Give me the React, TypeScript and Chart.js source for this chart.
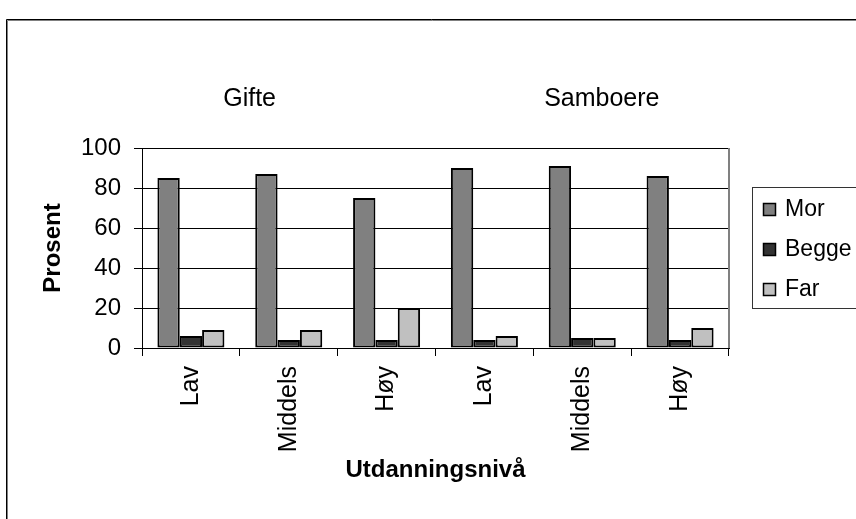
import React, { useEffect, useRef } from "react";
import { Chart, registerables } from "chart.js";

Chart.register(...registerables);

const categories = ["Lav", "Middels", "Høy", "Lav", "Middels", "Høy"];
const groupTitles = ["Gifte", "Samboere"];
const groupAnchors = [0.6, 4.2];
const seriesNames = ["Mor", "Begge", "Far"];
const morValues = [85, 87, 75, 90, 91, 86];
const beggeValues = [6, 4, 4, 4, 5, 4];
const farValues = [9, 9, 20, 6, 5, 10];
const seriesColors = ["#808080", "#333333", "#c0c0c0"];
const yMin = 0;
const yMax = 100;
const yStep = 20;
const yTitle = "Prosent";
const xTitle = "Utdanningsnivå";

const FONT = "'Liberation Sans', Arial, sans-serif";

const decorPlugin = {
  id: "decor",
  beforeDraw(chart: any) {
    const { ctx, width, height } = chart;
    ctx.save();
    ctx.fillStyle = "#ffffff";
    ctx.fillRect(0, 0, width, height);
    // outer frame
    ctx.lineWidth = 1;
    ctx.strokeStyle = "#000000";
    ctx.beginPath();
    ctx.moveTo(6.5, height + 2);
    ctx.lineTo(6.5, 19.5);
    ctx.lineTo(width + 2, 19.5);
    ctx.stroke();
    ctx.strokeStyle = "#808080";
    ctx.beginPath();
    ctx.moveTo(7.5, height + 2);
    ctx.lineTo(7.5, 20.5);
    ctx.lineTo(width + 2, 20.5);
    ctx.stroke();
    ctx.restore();
  },
  afterDraw(chart: any) {
    const { ctx, chartArea } = chart;
    const xs = chart.scales.x;
    ctx.save();
    // right border of plot area
    ctx.strokeStyle = "#808080";
    ctx.lineWidth = 2;
    ctx.beginPath();
    ctx.moveTo(chartArea.right, chartArea.top);
    ctx.lineTo(chartArea.right, chartArea.bottom);
    ctx.stroke();
    // group titles
    ctx.fillStyle = "#000000";
    ctx.font = `25px ${FONT}`;
    ctx.textAlign = "center";
    ctx.textBaseline = "alphabetic";
    groupTitles.forEach((t, i) => {
      ctx.fillText(t, xs.getPixelForValue(groupAnchors[i]), chartArea.top - 42);
    });
    // legend
    const bx = chartArea.right + 23;
    const by = chartArea.top + 39;
    const bh = 121;
    ctx.lineWidth = 1;
    ctx.strokeStyle = "#333333";
    ctx.strokeRect(Math.round(bx) + 0.5, Math.round(by) + 0.5, 200, bh);
    ctx.font = `23px ${FONT}`;
    ctx.textAlign = "left";
    ctx.textBaseline = "middle";
    chart.data.datasets.forEach((ds: any, i: number) => {
      const cy = Math.round(by) + 22 + i * 40;
      const sx = Math.round(bx) + 11;
      ctx.fillStyle = ds.backgroundColor;
      ctx.fillRect(sx, cy - 6, 12, 12);
      ctx.strokeStyle = "#000000";
      ctx.lineWidth = 1.5;
      ctx.strokeRect(sx + 0.5, cy - 6 + 0.5, 12, 12);
      ctx.fillStyle = "#000000";
      ctx.fillText(ds.label, Math.round(bx) + 33, cy + 1);
    });
    ctx.restore();
  },
};

export default function App() {
  const ref = useRef<HTMLCanvasElement | null>(null);
  useEffect(() => {
    if (!ref.current) return;
    const values = [morValues, beggeValues, farValues];
    const chart = new Chart(ref.current, {
      type: "bar",
      data: {
        labels: categories,
        datasets: seriesNames.map((name, i) => ({
          label: name,
          data: values[i],
          backgroundColor: seriesColors[i],
          borderColor: "#000000",
          borderWidth: 2,
          borderSkipped: false,
          categoryPercentage: 0.685,
          barPercentage: 1.0,
        })),
      },
      options: {
        animation: false,
        responsive: false,
        devicePixelRatio: 1,
        layout: { padding: { top: 148, right: 127, bottom: 0, left: 0 } },
        plugins: {
          legend: { display: false },
          tooltip: { enabled: false },
        },
        scales: {
          x: {
            offset: true,
            afterFit(scale: any) {
              scale.height = 171;
            },
            grid: {
              offset: true,
              drawOnChartArea: false,
              tickLength: 8,
              color: "#000000",
            },
            border: { display: true, color: "#000000", width: 1 },
            ticks: {
              autoSkip: false,
              minRotation: 90,
              maxRotation: 90,
              padding: 10,
              color: "#000000",
              font: { family: FONT, size: 25 },
            },
            title: {
              display: true,
              text: xTitle,
              color: "#000000",
              font: { family: FONT, size: 24, weight: "bold" },
              padding: { top: 0, bottom: 34 },
            },
          },
          y: {
            min: yMin,
            max: yMax,
            afterFit(scale: any) {
              scale.width = 142;
            },
            grid: {
              tickLength: 8,
              color: "#000000",
            },
            border: { display: true, color: "#000000", width: 1 },
            ticks: {
              stepSize: yStep,
              padding: 13,
              color: "#000000",
              font: { family: FONT, size: 24 },
            },
            title: {
              display: true,
              text: yTitle,
              color: "#000000",
              font: { family: FONT, size: 24, weight: "bold" },
              padding: { top: 39, bottom: 0 },
            },
          },
        },
      },
      plugins: [decorPlugin],
    });
    return () => chart.destroy();
  }, []);
  return (
    <div style={{ position: "fixed", left: 0, top: 0, width: 856, height: 519, background: "#fff" }}>
      <canvas ref={ref} width={856} height={519} style={{ display: "block" }} />
    </div>
  );
}
